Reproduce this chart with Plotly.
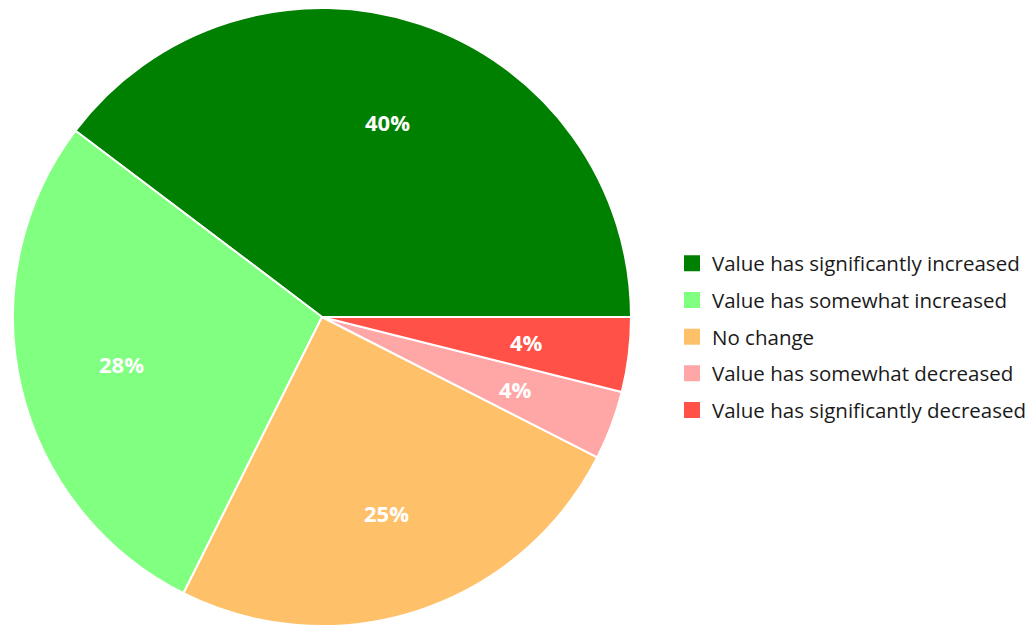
import math
import plotly.graph_objects as go

categories = [
    "Value has significantly increased",
    "Value has somewhat increased",
    "No change",
    "Value has somewhat decreased",
    "Value has significantly decreased",
]
values = [39.7, 27.9, 24.9, 3.6, 3.9]
colors = ["#008000", "#80FF80", "#FFC06A", "#FFA6A6", "#FF5148"]

W, H = 1035, 625
total = sum(values)
# first slice should end at 3 o'clock when drawn counterclockwise
rotation = 90 - values[0] / total * 360

# pie domain (paper fractions)
dom_x = [5 / W, 623 / W]
dom_y = [7 / H, 1.0]

fig = go.Figure()
fig.add_trace(go.Pie(
    labels=categories,
    values=values,
    sort=False,
    direction="counterclockwise",
    rotation=rotation,
    marker=dict(colors=colors, line=dict(color="white", width=2)),
    textinfo="none",
    domain=dict(x=dom_x, y=dom_y),
    hoverinfo="label+percent",
    showlegend=False,
))

# percentage labels placed at 2/3 of the radius along each slice's bisector
cx_px = (dom_x[0] + dom_x[1]) / 2 * W
cy_px = (1 - (dom_y[0] + dom_y[1]) / 2) * H
radius = min((dom_x[1] - dom_x[0]) * W, (dom_y[1] - dom_y[0]) * H) / 2
r_lab = 0.667 * radius
cum = 0.0
for v in values:
    mid = math.radians(90 - (cum + v / 2) / total * 360)
    cum += v
    px = cx_px + r_lab * math.sin(mid)
    py = cy_px - r_lab * math.cos(mid)
    fig.add_annotation(
        x=px / W, y=1 - py / H, xref="paper", yref="paper",
        text=f"{round(v / total * 100)}%", showarrow=False,
        font=dict(family="Open Sans", size=22, color="white", weight="bold"),
        xanchor="center", yanchor="middle",
    )

# legend entries (one group each so the row spacing can be set)
for name, col in zip(categories, colors):
    fig.add_trace(go.Scatter(
        x=[None], y=[None], mode="markers", name=name,
        legendgroup=name,
        marker=dict(symbol="square", size=16, color=col),
        showlegend=True, hoverinfo="skip",
    ))
fig.update_layout(
    width=W, height=H,
    margin=dict(l=0, r=0, t=0, b=0),
    paper_bgcolor="white",
    plot_bgcolor="white",
    xaxis=dict(visible=False),
    yaxis=dict(visible=False),
    showlegend=True,
    legend=dict(
        x=664 / W, y=1 - 329 / H, xanchor="left", yanchor="middle",
        font=dict(family="Open Sans", size=20.5, color="#1a1a1a"),
        itemsizing="trace",
        tracegroupgap=7,
        bgcolor="rgba(0,0,0,0)",
    ),
)
fig.write_html("out.html")
